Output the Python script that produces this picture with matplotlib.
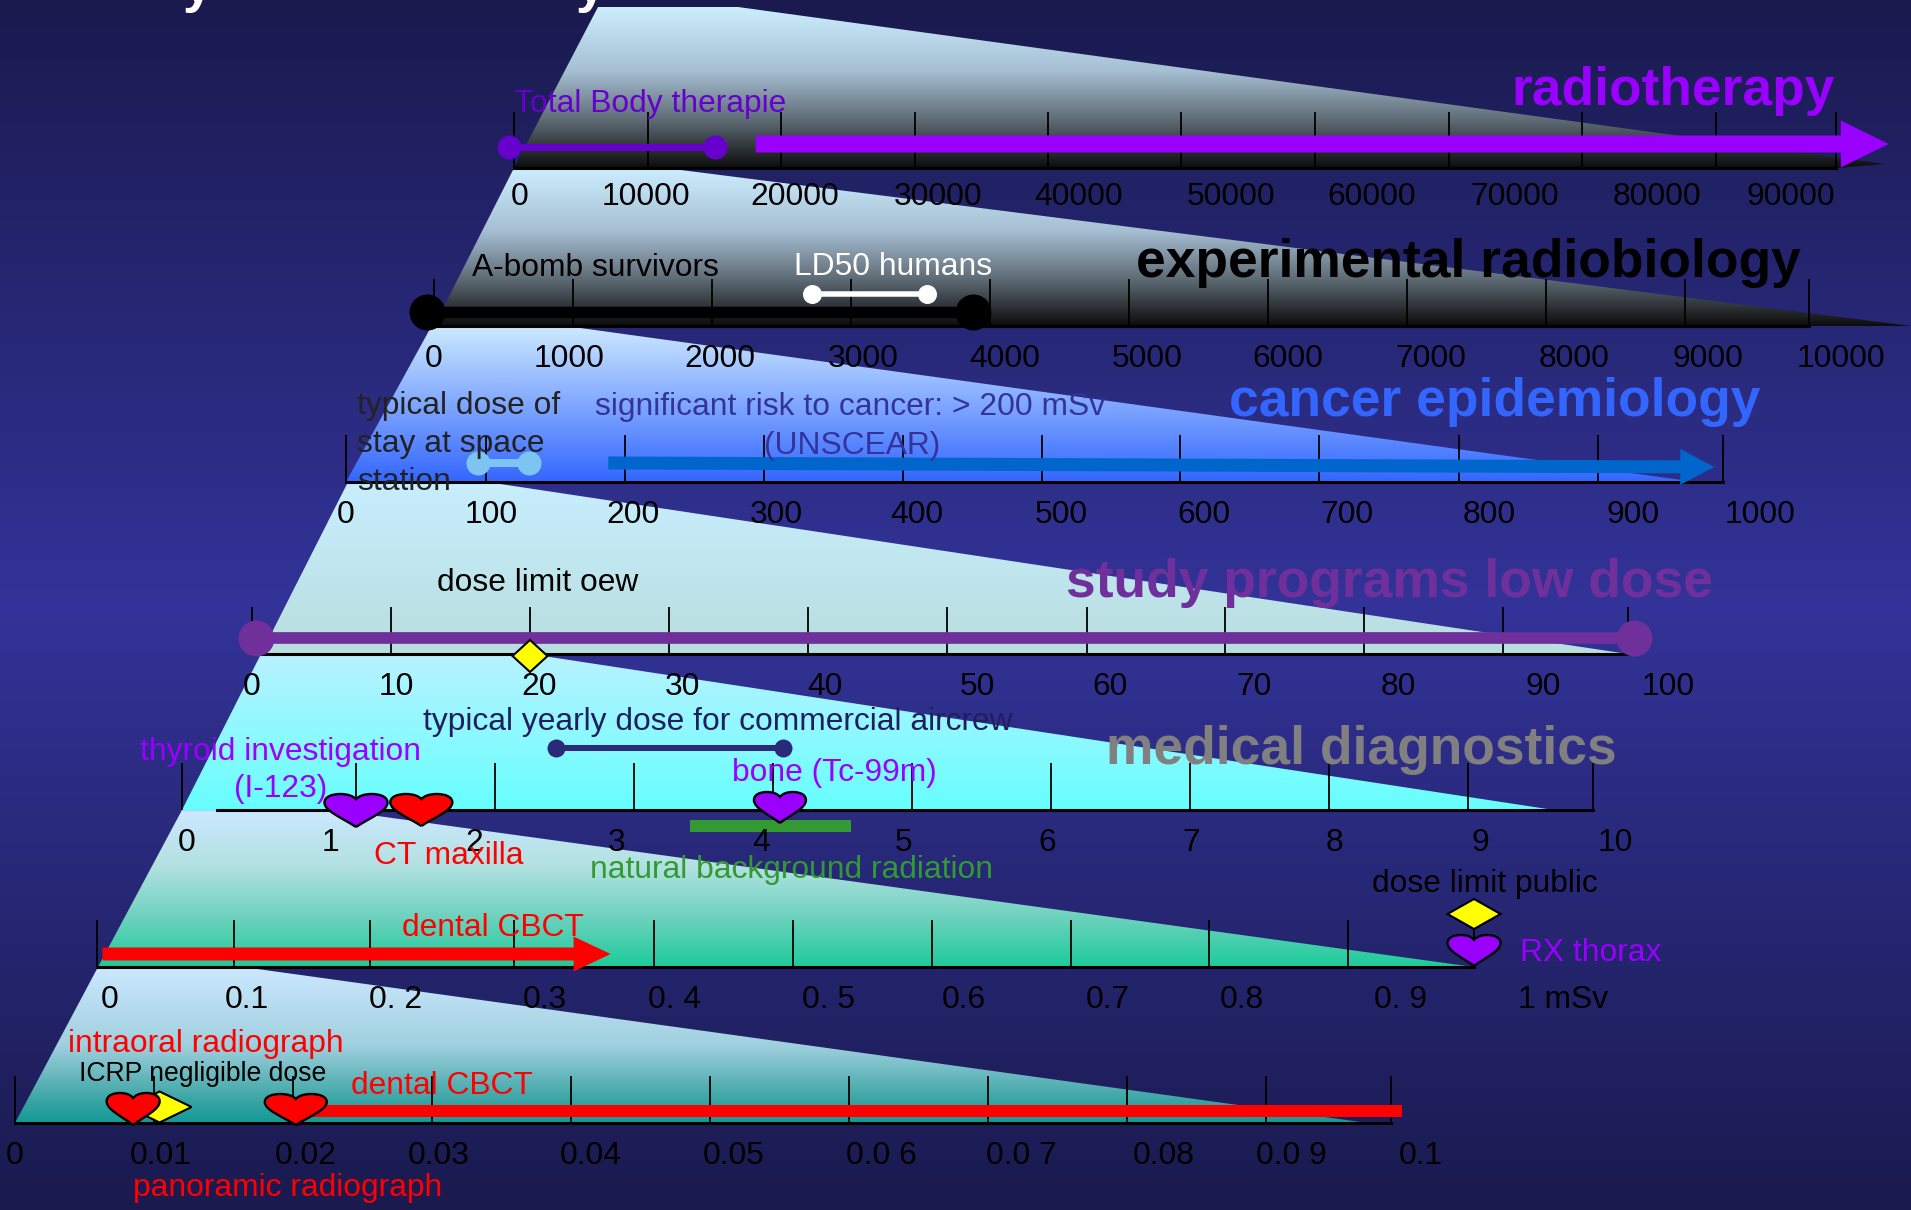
import numpy as np
import matplotlib
matplotlib.use("Agg")
import matplotlib.pyplot as plt
from matplotlib.colors import to_rgb
from matplotlib.patches import FancyArrowPatch, PathPatch, Polygon, Rectangle
from matplotlib.path import Path

plt.rcParams['font.family'] = ['Liberation Sans', 'DejaVu Sans']

W = 1911
H = 1210

# scale values, doses in mSv
radio_ticks = [0, 10000, 20000, 30000, 40000, 50000, 60000, 70000, 80000, 90000, 100000]
radio_labels = ['0', '10000', '20000', '30000', '40000', '50000', '60000', '70000', '80000', '90000']
exper_ticks = [0, 1000, 2000, 3000, 4000, 5000, 6000, 7000, 8000, 9000, 10000]
exper_labels = ['0', '1000', '2000', '3000', '4000', '5000', '6000', '7000', '8000', '9000', '10000']
cancer_ticks = [0, 100, 200, 300, 400, 500, 600, 700, 800, 900, 1000]
cancer_labels = ['0', '100', '200', '300', '400', '500', '600', '700', '800', '900', '1000']
study_ticks = [0, 10, 20, 30, 40, 50, 60, 70, 80, 90, 100]
study_labels = ['0', '10', '20', '30', '40', '50', '60', '70', '80', '90', '100']
med_ticks = [0, 1, 2, 3, 4, 5, 6, 7, 8, 9, 10]
med_labels = ['0', '1', '2', '3', '4', '5', '6', '7', '8', '9', '10']
low_ticks = [0, 0.1, 0.2, 0.3, 0.4, 0.5, 0.6, 0.7, 0.8, 0.9, 1.0]
low_labels = ['0', '0.1', '0. 2', '0.3', '0. 4', '0. 5', '0.6', '0.7', '0.8', '0. 9', '1 mSv']
vlow_ticks = [0, 0.01, 0.02, 0.03, 0.04, 0.05, 0.06, 0.07, 0.08, 0.09, 0.1]
vlow_labels = ['0', '0.01', '0.02', '0.03', '0.04', '0.05', '0.0 6', '0.0 7', '0.08', '0.0 9', '0.1']

# dose ranges and single doses of the marks
total_body = [-350, 15000]
radiotherapy = [18100, 104400]
a_bomb = [-50, 3880]
ld50 = [2720, 3550]
space_station = [94, 131]
cancer_risk = [188, 993]
study_low = [0.3, 100.5]
oew_limit = 20
aircrew = [2.44, 4.07]
natural_bg = [3.4, 4.56]
thyroid_dose = 1.0
ct_maxilla = 1.47
bone_scan = 4.05
dental_cbct_high = [0.004, 0.369]
public_limit = 1.0
rx_thorax = 1.0
intraoral = 0.0085
icrp_negligible = 0.0104
panoramic = 0.0202
dental_cbct_low = [0.02, 0.1009]

PURPLE = '#9900FF'
DARK_PURPLE = '#6600CC'
STUDY = '#70309C'
RED = '#FF0000'
GREEN = '#339933'
NAVY = '#2A2A78'


def dose_scale(vals, px):
    # piecewise linear, the printed scales are not evenly spaced
    vals = np.array(vals, float)
    px = np.array(px, float)
    lo = (px[1] - px[0]) / (vals[1] - vals[0])
    hi = (px[-1] - px[-2]) / (vals[-1] - vals[-2])

    def fwd(v):
        v = np.asarray(v, float)
        out = np.interp(v, vals, px)
        out = np.where(v < vals[0], px[0] + (v - vals[0]) * lo, out)
        return np.where(v > vals[-1], px[-1] + (v - vals[-1]) * hi, out)

    def inv(p):
        p = np.asarray(p, float)
        out = np.interp(p, px, vals)
        out = np.where(p < px[0], vals[0] + (p - px[0]) / lo, out)
        return np.where(p > px[-1], vals[-1] + (p - px[-1]) / hi, out)

    return fwd, inv


def make_panel(ticks, tick_px, axis_y, tick_len, line_from=None):
    ax = fig.add_axes([tick_px[0] / W, 1 - axis_y / H, (tick_px[-1] - tick_px[0]) / W, tick_len / H], zorder=2)
    ax.patch.set_visible(False)
    fwd, inv = dose_scale(ticks, tick_px)
    ax.set_xscale('function', functions=(fwd, inv))
    ax.set_xlim(ticks[0], ticks[-1])
    ax.set_ylim(axis_y, axis_y - tick_len)
    ax.set_xticks(ticks)
    ax.minorticks_off()
    ax.tick_params(axis='x', direction='in', length=tick_len * 0.72, width=1.3, color='black', labelbottom=False)
    ax.tick_params(axis='y', left=False, labelleft=False)
    for s in ['top', 'left', 'right']:
        ax.spines[s].set_visible(False)
    ax.spines['bottom'].set_linewidth(2.2)
    ax.spines['bottom'].set_bounds(ticks[0] if line_from is None else line_from, ticks[-1])
    ax.fwd = fwd
    ax.inv = inv
    return ax


def bar(ax, x, y, thick, color, ends=None):
    ax.plot(x, [y, y], color=color, lw=thick * 0.72, solid_capstyle='butt', clip_on=False, zorder=4)
    if ends:
        ax.plot(x, [y, y], 'o', color=color, ms=ends * 0.72, mew=0, clip_on=False, zorder=4)


def arrow(ax, x, y, shaft, head_len, head_w, color):
    st = "simple,head_length=%f,head_width=%f,tail_width=%f" % (head_len * 0.72, head_w * 0.72, shaft * 0.72)
    p = FancyArrowPatch((x[0], y[0]), (x[1], y[1]), arrowstyle=st, mutation_scale=1, shrinkA=0, shrinkB=0,
                        lw=0, color=color, clip_on=False, zorder=4)
    ax.add_patch(p)


def heart(ax, x, tip_y, w, h, color):
    v = np.array([[0, 0], [-0.22, 0.28], [-0.5, 0.48], [-0.5, 0.74], [-0.5, 0.92], [-0.38, 1], [-0.25, 1],
                  [-0.12, 1], [-0.04, 0.93], [0, 0.84],
                  [0.04, 0.93], [0.12, 1], [0.25, 1], [0.38, 1], [0.5, 0.92], [0.5, 0.74],
                  [0.5, 0.48], [0.22, 0.28], [0, 0]])
    codes = [Path.MOVETO] + [Path.CURVE4] * 18
    xs = ax.inv(ax.fwd(x) + v[:, 0] * w)
    ys = tip_y - v[:, 1] * h
    ax.add_patch(PathPatch(Path(np.c_[xs, ys], codes), fc=color, ec='black', lw=1.7, clip_on=False, zorder=6))


def diamond(ax, x, cy, w, h):
    px = ax.fwd(x)
    xs = ax.inv(np.array([px - w / 2, px, px + w / 2, px]))
    ys = [cy, cy - h / 2, cy, cy + h / 2]
    ax.add_patch(Polygon(np.c_[xs, ys], fc='#FFFF00', ec='black', lw=1.5, clip_on=False, zorder=5))


def lab(x, y, s, color='black', size=22.9, weight='normal'):
    top.text(x, y, s, color=color, fontsize=size, fontweight=weight, ha='left', va='baseline', zorder=10)


def gradient_poly(pts, stops):
    # stops are (position, colour) pairs going down the wedge
    pts = np.array(pts, float)
    y0 = pts[:, 1].min()
    y1 = pts[:, 1].max()
    t = np.linspace(0, 1, 256)
    pos = [s[0] for s in stops]
    rgb = np.array([to_rgb(s[1]) for s in stops])
    img = np.stack([np.interp(t, pos, rgb[:, i]) for i in range(3)], axis=1)[:, None, :]
    im = back.imshow(img, extent=[pts[:, 0].min(), pts[:, 0].max(), y1, y0], aspect='auto', zorder=1)
    im.set_clip_path(Polygon(pts, transform=back.transData))


fig = plt.figure(figsize=(W / 100, H / 100), dpi=100)

back = fig.add_axes([0, 0, 1, 1], zorder=0)
t = np.abs(np.linspace(-1, 1, 512))[:, None, None]
bg = (1 - t) * np.array(to_rgb('#333399'))[None, None, :] + t * np.array(to_rgb('#1A1A4F'))[None, None, :]
back.imshow(bg, extent=[0, W, H, 0], aspect='auto', zorder=0)

# wedges behind each scale
steel = [(0, '#CCEEFF'), (0.4, '#A5BED2'), (0.7, '#5F6C76'), (1, '#0C0C0C')]
gradient_poly([(598, 7), (738, 7), (1885, 164), (1836, 168), (514, 168)], steel)
gradient_poly([(514, 168), (665, 168), (1911, 326), (434, 326)], steel)
gradient_poly([(431, 327), (573, 327), (1696, 482), (346, 482)], [(0, '#CCE8FF'), (1, '#3366FF')])
gradient_poly([(348, 482), (487, 482), (1628, 654), (261, 654)], [(0, '#C8EEFF'), (1, '#B8DEDE')])
gradient_poly([(261, 654), (530, 654), (1554, 810), (182, 810)], [(0, '#B8F2FF'), (1, '#66FFFF')])
gradient_poly([(182, 810), (334, 810), (1474, 967), (98, 967)],
              [(0, '#CCE8FF'), (0.36, '#B2E1E1'), (0.68, '#6ED2BE'), (1, '#1CCB9A')])
gradient_poly([(98, 967), (243, 967), (1368, 1123), (15, 1123)],
              [(0, '#CCE8FF'), (0.5, '#A0D0DE'), (0.85, '#3CA5A5'), (1, '#129A96')])
back.set_xlim(0, W)
back.set_ylim(H, 0)
back.axis('off')

top = fig.add_axes([0, 0, 1, 1], zorder=8)
top.patch.set_visible(False)
top.set_xlim(0, W)
top.set_ylim(H, 0)
top.axis('off')

# radiotherapy
ax = make_panel(radio_ticks, [514, 648, 781, 915, 1048, 1181, 1315, 1449, 1582, 1716, 1836], 168, 56)
bar(ax, total_body, 147, 7, DARK_PURPLE, ends=24)
arrow(ax, radiotherapy, [144, 144], 17, 48, 47, PURPLE)

# experimental radiobiology
ax = make_panel(exper_ticks, [434, 573, 712, 851, 990, 1129, 1268, 1407, 1546, 1685, 1809], 326, 47)
bar(ax, a_bomb, 312, 11.5, 'black', ends=36)
bar(ax, ld50, 294, 5.5, 'white', ends=19)

# cancer epidemiology
ax = make_panel(cancer_ticks, [346, 486, 625, 764, 903, 1042, 1180, 1319, 1459, 1598, 1723], 482, 47)
bar(ax, space_station, 463, 8, '#7EC4F2', ends=24)
arrow(ax, cancer_risk, [463, 467], 13, 34, 36, '#0066CC')

# study programs low dose
ax = make_panel(study_ticks, [252, 391, 530, 669, 808, 947, 1087, 1225, 1364, 1503, 1628], 654, 47)
bar(ax, study_low, 638, 11.7, STUDY, ends=36)
diamond(ax, oew_limit, 656, 35, 32)

# medical diagnostics
ax = make_panel(med_ticks, [182, 356, 495, 634, 773, 912, 1051, 1190, 1329, 1468, 1593], 810, 47, line_from=0.2)
ax.plot([0, 0.2], [810, 810], color='#99DDFF', lw=1, clip_on=False)
bar(ax, aircrew, 748, 6, NAVY, ends=18)
bar(ax, natural_bg, 826, 12, GREEN)
heart(ax, thyroid_dose, 827, 63, 33, PURPLE)
heart(ax, ct_maxilla, 826, 62, 32, RED)
heart(ax, bone_scan, 823, 52, 31, PURPLE)

# low dose scale up to 1 mSv
ax = make_panel(low_ticks, [97, 234, 370, 514, 654, 793, 932, 1071, 1209, 1348, 1474], 967, 47)
arrow(ax, dental_cbct_high, [954, 954], 13, 37, 35, RED)
diamond(ax, public_limit, 914, 53, 30)
heart(ax, rx_thorax, 966, 53, 31, PURPLE)

# very low dose scale up to 0.1 mSv
ax = make_panel(vlow_ticks, [15, 154, 293, 432, 571, 710, 849, 988, 1127, 1266, 1391], 1123, 47)
ax.add_patch(Rectangle((dental_cbct_low[0], 1105), dental_cbct_low[1] - dental_cbct_low[0], 12, fc=RED, ec='none',
                       clip_on=False, zorder=4))
diamond(ax, icrp_negligible, 1107, 64, 31)
heart(ax, intraoral, 1125, 53, 32, RED)
heart(ax, panoramic, 1125, 62, 31, RED)

# scale numbers, placed by hand as printed
for labels, xs, y in [
    (radio_labels, [520, 646, 795, 938, 1079, 1231, 1372, 1515, 1657, 1791], 205),
    (exper_labels, [434, 569, 720, 863, 1005, 1147, 1288, 1431, 1574, 1708, 1841], 367),
    (cancer_labels, [346, 491, 633, 776, 917, 1061, 1204, 1347, 1489, 1633, 1760], 523),
    (study_labels, [252, 396, 539, 682, 825, 977, 1110, 1254, 1398, 1543, 1668], 695),
    (med_labels, [187, 330, 474, 617, 761, 904, 1047, 1191, 1334, 1480, 1615], 851),
    (low_labels, [110, 247, 396, 545, 674, 829, 964, 1108, 1242, 1400, 1563], 1008),
    (vlow_labels, [15, 161, 306, 439, 591, 734, 881, 1021, 1164, 1291, 1421], 1164),
]:
    for s, x in zip(labels, xs):
        top.text(x, y, s, color='black', fontsize=22.9, ha='center', va='baseline', zorder=10)

lab(1511, 105, 'radiotherapy', PURPLE, 38.4, 'bold')
lab(1136, 277, 'experimental radiobiology', 'black', 38.4, 'bold')
lab(1229, 416, 'cancer epidemiology', '#3366FF', 38.4, 'bold')
lab(1066, 597, 'study programs low dose', STUDY, 38.4, 'bold')
lab(1106, 764, 'medical diagnostics', '#808080', 38.4, 'bold')

lab(514, 112, 'Total Body therapie', DARK_PURPLE)
lab(472, 276, 'A-bomb survivors')
lab(794, 275, 'LD50 humans', 'white')
lab(357, 414, 'typical dose of', '#222222')
lab(357, 452, 'stay at space', '#222222')
lab(357, 490, 'station', '#222222')
lab(595, 415, 'significant risk to cancer: > 200 mSv', '#33339A')
lab(764, 454, '(UNSCEAR)', '#33339A')
lab(437, 591, 'dose limit oew')
lab(423, 730, 'typical yearly dose for commercial aircrew', '#1E1E60')
lab(140, 760, 'thyroid investigation', PURPLE)
lab(234, 797, '(I-123)', PURPLE)
lab(732, 781, 'bone (Tc-99m)', PURPLE)
lab(374, 864, 'CT maxilla', RED)
lab(590, 878, 'natural background radiation', GREEN)
lab(402, 936, 'dental CBCT', RED)
lab(1372, 892, 'dose limit public')
lab(1520, 961, 'RX thorax', PURPLE)
lab(68, 1052, 'intraoral radiograph', RED)
lab(79, 1081, 'ICRP negligible dose', 'black', 19.2)
lab(351, 1094, 'dental CBCT', RED)
lab(133, 1196, 'panoramic radiograph', RED)

# heading runs off the top edge
lab(183, 2, 'y', 'white', 38.4, 'bold')
lab(576, 2, 'y', 'white', 38.4, 'bold')

fig.savefig('out.png', dpi=100)
